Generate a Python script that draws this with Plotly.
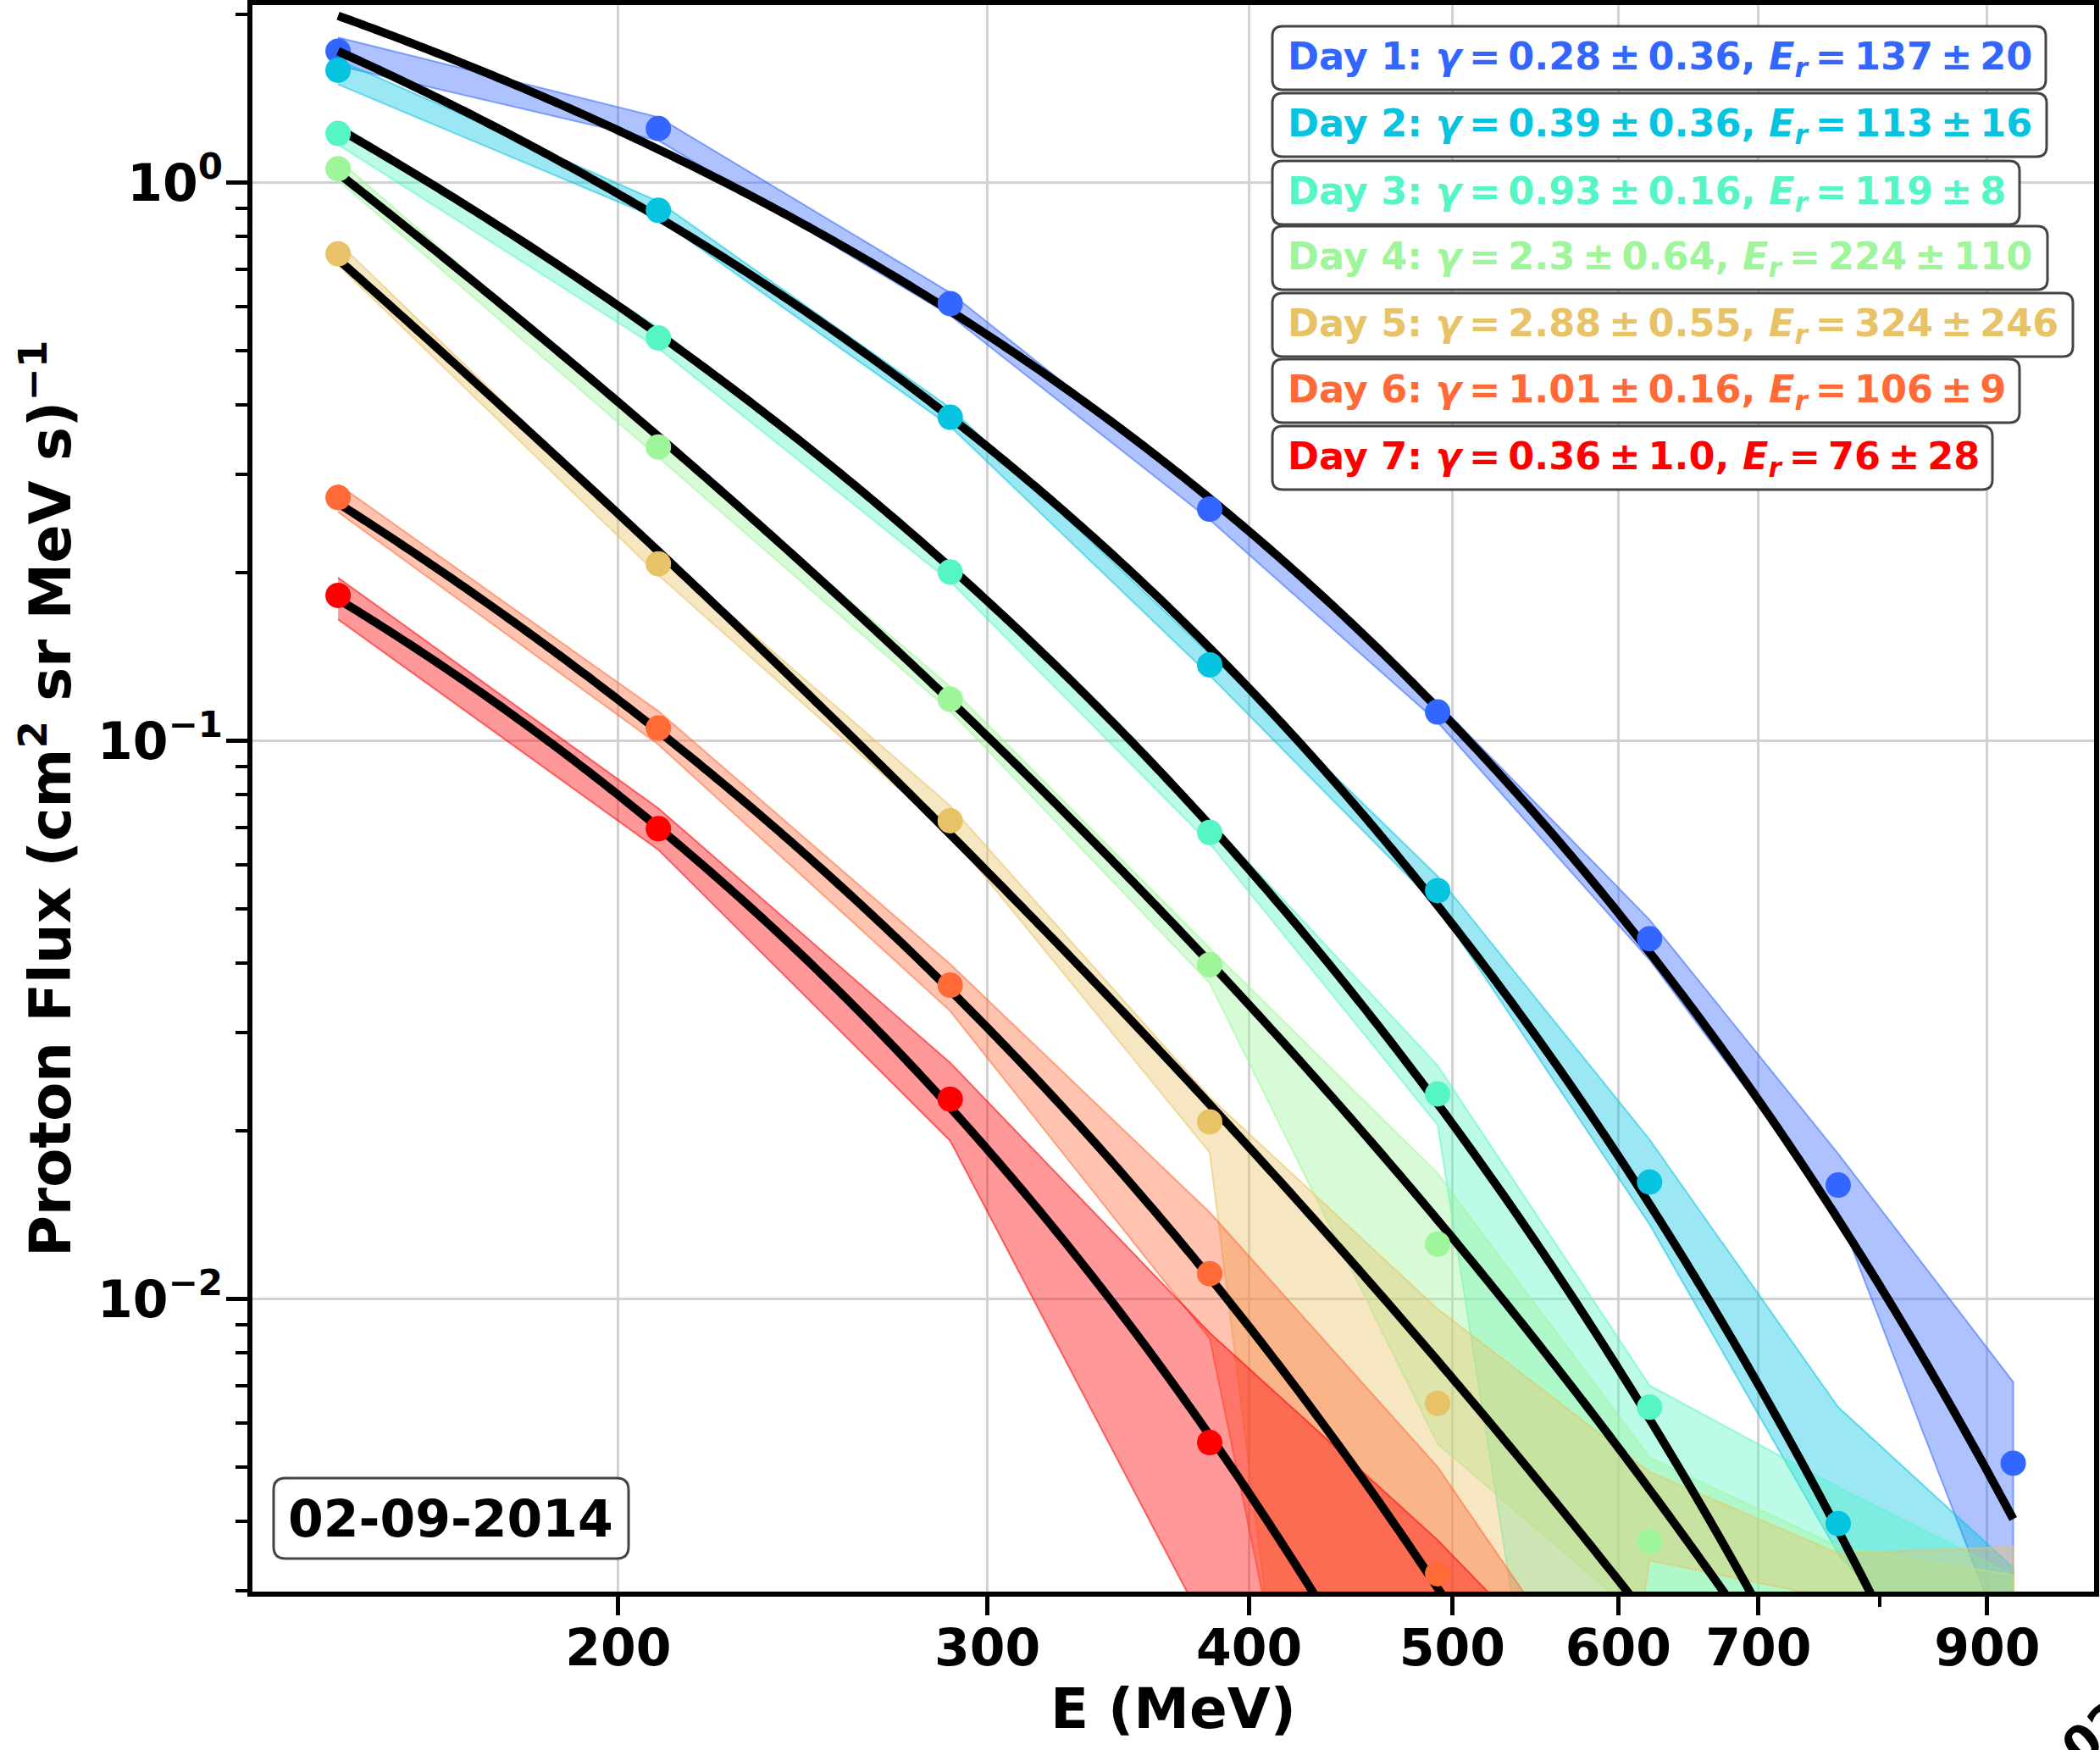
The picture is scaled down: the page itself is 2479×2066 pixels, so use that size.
import numpy as np
import plotly.graph_objects as go

# ---- data -------------------------------------------------------------
energy = [147, 209, 288, 383, 492, 621, 764, 926]          # MeV
day_names = ["Day 1", "Day 2", "Day 3", "Day 4", "Day 5", "Day 6", "Day 7"]

# measured proton flux (None = below the plotted range)
flux_day1 = [1.72, 1.25, 0.607, 0.260, 0.1126, 0.0442, 0.0160, 0.00508]
flux_day2 = [1.59, 0.892, 0.380, 0.1368, 0.0539, 0.0162, 0.00396, None]
flux_day3 = [1.225, 0.527, 0.2006, 0.0685, 0.0233, 0.0064, None, None]
flux_day4 = [1.059, 0.336, 0.1187, 0.0397, 0.01254, 0.00368, None, None]
flux_day5 = [0.7455, 0.2075, 0.0719, 0.02077, 0.0065, None, None, None]
flux_day6 = [0.2728, 0.1054, 0.0365, 0.0111, 0.00322, None, None, None]
flux_day7 = [0.1822, 0.0696, 0.0228, 0.00553, None, None, None, None]

# uncertainty envelope (lower / upper)
low_day1 = [1.62, 1.19, 0.578, 0.249, 0.108, 0.0405, 0.0143, 0.0022]
up_day1 = [1.82, 1.31, 0.635, 0.271, 0.117, 0.0478, 0.0182, 0.0071]
low_day2 = [1.50, 0.862, 0.366, 0.131, 0.0505, 0.0136, 0.0035, 0.0015]
up_day2 = [1.66, 0.925, 0.395, 0.143, 0.0572, 0.0193, 0.0064, 0.0033]
low_day3 = [1.17, 0.505, 0.193, 0.0655, 0.0205, 0.00008, 0.00005, 0.00005]
up_day3 = [1.28, 0.55, 0.208, 0.0720, 0.0262, 0.0070, 0.0046, 0.0032]
low_day4 = [1.01, 0.322, 0.113, 0.0368, 0.0055, 0.0026, 0.0008, 0.0008]
up_day4 = [1.10, 0.350, 0.125, 0.0425, 0.0168, 0.0052, 0.0036, 0.0032]
low_day5 = [0.712, 0.198, 0.068, 0.0183, 0.00001, 0.0034, 0.0029, 0.0028]
up_day5 = [0.782, 0.218, 0.0765, 0.0230, 0.0096, 0.0049, 0.0035, 0.0036]
low_day6 = [0.257, 0.0985, 0.0328, 0.0085, 0.00009, 0.00005, 0.00005, 0.00005]
up_day6 = [0.288, 0.113, 0.0398, 0.0143, 0.0050, 0.0014, 0.0010, 0.0010]
low_day7 = [0.165, 0.0638, 0.0192, 0.0025, 0.00001, 0.00001, 0.00001, 0.00001]
up_day7 = [0.196, 0.0757, 0.0265, 0.0087, 0.0037, 0.0015, 0.0010, 0.0010]

# fit parameters: J(E) = J0 (E/E0)^-gamma exp(-(E-E0)/Er)
gamma = [0.28, 0.39, 0.93, 2.3, 2.88, 1.01, 0.36]
gamma_err = [0.36, 0.36, 0.16, 0.64, 0.55, 0.16, 1.0]
e_roll = [137, 113, 119, 224, 324, 106, 76]
e_roll_err = [20, 16, 8, 110, 246, 9, 28]
fit_norm = [1.99, 1.72, 1.25, 1.04, 0.729, 0.2665, 0.1794]   # J at E0

x_major = [200, 300, 400, 500, 600, 700, 900]
x_minor = [800]
y_major = [0.01, 0.1, 1]
y_major_text = ["10<sup>\u22122</sup>", "10<sup>\u22121</sup>", "10<sup>0</sup>"]
y_minor = [0.003, 0.004, 0.005, 0.006, 0.007, 0.008, 0.009,
           0.02, 0.03, 0.04, 0.05, 0.06, 0.07, 0.08, 0.09,
           0.2, 0.3, 0.4, 0.5, 0.6, 0.7, 0.8, 0.9, 2]

date_label = "02-09-2014"

colors = ["#3366ff", "#06c4e0", "#55f5c5", "#9ef59a", "#e8c266", "#ff6a36", "#ff0000"]

flux = [flux_day1, flux_day2, flux_day3, flux_day4, flux_day5, flux_day6, flux_day7]
lows = [low_day1, low_day2, low_day3, low_day4, low_day5, low_day6, low_day7]
ups = [up_day1, up_day2, up_day3, up_day4, up_day5, up_day6, up_day7]

FONT = "DejaVu Sans"

# ---- geometry (pixels) ------------------------------------------------
W, H = 2479, 2066
L, R, T, B = 298, 2472, 6, 1879
PW, PH = R - L, B - T


def px(x):
    return (x - L) / PW


def py(y):
    return (B - y) / PH


def rgba(hex_color, a):
    h = hex_color.lstrip("#")
    r, g, b = int(h[0:2], 16), int(h[2:4], 16), int(h[4:6], 16)
    return f"rgba({r},{g},{b},{a})"


def rounded_box(x0, y0, x1, y1, rad=12):
    """SVG path (paper coords) for a rounded rectangle given pixel corners."""
    a, b, c, d = px(x0), px(x1), py(y0), py(y1)   # left, right, top, bottom
    rx, ry = rad / PW, rad / PH
    return (f"M {a + rx},{c} L {b - rx},{c} Q {b},{c} {b},{c - ry} "
            f"L {b},{d + ry} Q {b},{d} {b - rx},{d} "
            f"L {a + rx},{d} Q {a},{d} {a},{d + ry} "
            f"L {a},{c - ry} Q {a},{c} {a + rx},{c} Z")


fig = go.Figure()

# shaded uncertainty bands
for i in range(len(day_names)):
    fig.add_trace(go.Scatter(
        x=energy + energy[::-1],
        y=ups[i] + lows[i][::-1],
        fill="toself",
        fillcolor=rgba(colors[i], 0.4),
        line=dict(color=rgba(colors[i], 0.55), width=2),
        mode="lines",
        hoverinfo="skip",
        showlegend=False,
    ))

# fitted spectra and measured points
e_fit = np.geomspace(energy[0], energy[-1], 400)
for i in range(len(day_names)):
    j_fit = fit_norm[i] * (e_fit / energy[0]) ** (-gamma[i]) * np.exp(-(e_fit - energy[0]) / e_roll[i])
    fig.add_trace(go.Scatter(
        x=e_fit, y=j_fit, mode="lines",
        line=dict(color="black", width=10, simplify=False),
        hoverinfo="skip", showlegend=False,
    ))
    fig.add_trace(go.Scatter(
        x=energy, y=flux[i], mode="markers",
        marker=dict(color=colors[i], size=30, line=dict(width=0)),
        name=day_names[i], showlegend=False,
    ))

# fit-parameter labels in rounded boxes
box_left = 1502
box_tops = [31, 110, 190, 267, 346, 424, 503]
box_rights = [2415, 2416, 2384, 2417, 2447, 2384, 2352]
box_h = 75
for i in range(len(day_names)):
    top = box_tops[i]
    fig.add_shape(type="path", xref="paper", yref="paper",
                  path=rounded_box(box_left, top, box_rights[i], top + box_h),
                  fillcolor="white", line=dict(color="#444444", width=3), layer="above")
    label = (f"{day_names[i]}: <i>\u03b3</i>\u2009=\u2009{gamma[i]}\u2009\u00b1\u2009{gamma_err[i]}, "
             f"<i>E</i><sub><i>r</i></sub>\u2009=\u2009{e_roll[i]}\u2009\u00b1\u2009{e_roll_err[i]}")
    fig.add_annotation(
        x=px(box_left + 16), y=py(top + box_h / 2 + 1), xref="paper", yref="paper",
        xanchor="left", yanchor="middle", showarrow=False,
        text=label, align="left",
        font=dict(family=FONT, size=44.6, color=colors[i], weight="bold"),
    )

# date tag
fig.add_shape(type="path", xref="paper", yref="paper",
              path=rounded_box(323, 1745, 742, 1840, rad=14),
              fillcolor="white", line=dict(color="#444444", width=3), layer="above")
fig.add_annotation(
    x=px(532), y=py(1793), xref="paper", yref="paper",
    xanchor="center", yanchor="middle", showarrow=False,
    text=date_label,
    font=dict(family=FONT, size=60, color="black", weight="bold"),
)

# axis titles
fig.add_annotation(
    x=px(1385), y=py(2017), xref="paper", yref="paper",
    xanchor="center", yanchor="middle", showarrow=False,
    text="E (MeV)",
    font=dict(family=FONT, size=66, color="black", weight="bold"),
)
fig.add_annotation(
    x=px(55), y=py(943), xref="paper", yref="paper",
    xanchor="center", yanchor="middle", showarrow=False, textangle=-90,
    text="Proton Flux (cm<sup>2</sup> sr MeV s)<sup>\u22121</sup>",
    font=dict(family=FONT, size=67, color="black", weight="bold"),
)

# rotated date stamp in the lower-right corner
fig.add_annotation(
    x=px(2418), y=py(2100), xref="paper", yref="paper",
    xanchor="left", yanchor="bottom", showarrow=False, textangle=-40,
    text=date_label,
    font=dict(family=FONT, size=58, color="black", weight="bold"),
)

tick_font = dict(family=FONT, size=60, color="black", weight="bold")

fig.update_layout(
    width=W, height=H,
    margin=dict(l=L, r=W - R, t=T, b=H - B, autoexpand=False),
    paper_bgcolor="white", plot_bgcolor="white",
    showlegend=False,
    xaxis=dict(
        type="log", range=[np.log10(133.8), np.log10(1012)],
        tickvals=x_major, ticktext=[str(v) for v in x_major],
        ticks="outside", ticklen=22, tickwidth=5, tickcolor="black",
        ticklabelstandoff=-13,
        showline=True, linewidth=6, linecolor="black", mirror=True,
        showgrid=True, gridcolor="#d2d2d2", gridwidth=3, zeroline=False,
        tickfont=tick_font,
        minor=dict(tickvals=x_minor, ticks="outside", ticklen=12, tickwidth=4,
                   tickcolor="black", showgrid=False),
    ),
    yaxis=dict(
        type="log", range=[np.log10(0.002991), np.log10(2.08)],
        tickvals=y_major, ticktext=y_major_text,
        ticks="outside", ticklen=25, tickwidth=5, tickcolor="black",
        ticklabelstandoff=-8,
        showline=True, linewidth=6, linecolor="black", mirror=True,
        showgrid=True, gridcolor="#d2d2d2", gridwidth=3, zeroline=False,
        tickfont=tick_font,
        minor=dict(tickvals=y_minor, ticks="outside", ticklen=14, tickwidth=4,
                   tickcolor="black", showgrid=False),
    ),
)

fig.write_html("out.html")
